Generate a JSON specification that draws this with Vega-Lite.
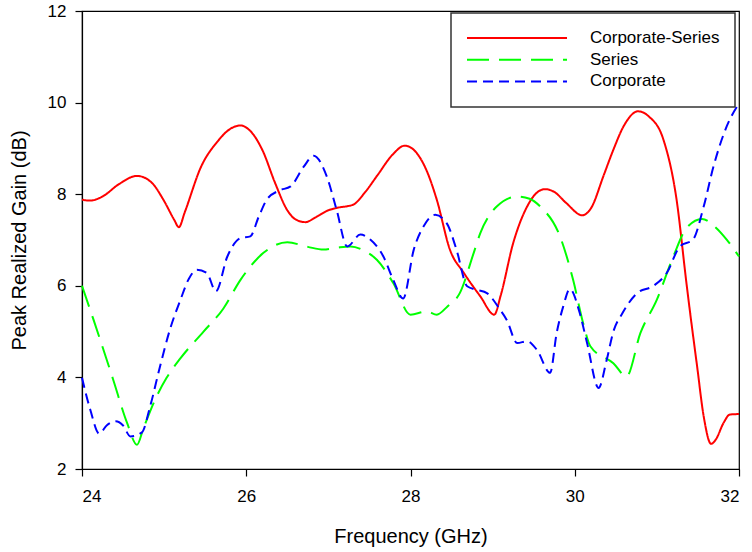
{
  "$schema": "https://vega.github.io/schema/vega-lite/v6.json",
  "width": 657,
  "height": 458,
  "autosize": {"type": "none"},
  "padding": {"left": 82, "top": 11, "right": 13, "bottom": 83},
  "config": {
    "font": "Liberation Sans",
    "view": {"stroke": "black", "strokeWidth": 1.2},
    "axis": {"domainColor": "black", "tickColor": "black", "labelColor": "black", "titleColor": "black", "grid": false, "labelFont": "Liberation Sans", "titleFont": "Liberation Sans", "labelFontSize": 17, "titleFontSize": 20, "titleFontWeight": "normal", "tickSize": 7, "domainWidth": 1.2, "tickWidth": 1.2},
    "legend": {"strokeWidth": 1.5}
  },
  "data": {"values": [
    {"s": "Corporate-Series", "f": 24.0, "g": 7.88},
    {"s": "Corporate-Series", "f": 24.1, "g": 7.86},
    {"s": "Corporate-Series", "f": 24.25, "g": 7.95},
    {"s": "Corporate-Series", "f": 24.45, "g": 8.22},
    {"s": "Corporate-Series", "f": 24.67, "g": 8.4},
    {"s": "Corporate-Series", "f": 24.85, "g": 8.25},
    {"s": "Corporate-Series", "f": 25.0, "g": 7.85},
    {"s": "Corporate-Series", "f": 25.12, "g": 7.45},
    {"s": "Corporate-Series", "f": 25.18, "g": 7.28},
    {"s": "Corporate-Series", "f": 25.25, "g": 7.6},
    {"s": "Corporate-Series", "f": 25.45, "g": 8.6},
    {"s": "Corporate-Series", "f": 25.65, "g": 9.15},
    {"s": "Corporate-Series", "f": 25.8, "g": 9.42},
    {"s": "Corporate-Series", "f": 25.93, "g": 9.5},
    {"s": "Corporate-Series", "f": 26.05, "g": 9.38},
    {"s": "Corporate-Series", "f": 26.2, "g": 8.95},
    {"s": "Corporate-Series", "f": 26.35, "g": 8.25},
    {"s": "Corporate-Series", "f": 26.5, "g": 7.65},
    {"s": "Corporate-Series", "f": 26.6, "g": 7.45},
    {"s": "Corporate-Series", "f": 26.72, "g": 7.39},
    {"s": "Corporate-Series", "f": 26.85, "g": 7.5},
    {"s": "Corporate-Series", "f": 27.0, "g": 7.65},
    {"s": "Corporate-Series", "f": 27.1, "g": 7.7},
    {"s": "Corporate-Series", "f": 27.3, "g": 7.77},
    {"s": "Corporate-Series", "f": 27.45, "g": 8.05},
    {"s": "Corporate-Series", "f": 27.6, "g": 8.42},
    {"s": "Corporate-Series", "f": 27.78, "g": 8.86},
    {"s": "Corporate-Series", "f": 27.93, "g": 9.06},
    {"s": "Corporate-Series", "f": 28.05, "g": 8.95},
    {"s": "Corporate-Series", "f": 28.2, "g": 8.5},
    {"s": "Corporate-Series", "f": 28.32, "g": 7.88},
    {"s": "Corporate-Series", "f": 28.48, "g": 6.79},
    {"s": "Corporate-Series", "f": 28.65, "g": 6.28},
    {"s": "Corporate-Series", "f": 28.85, "g": 5.77},
    {"s": "Corporate-Series", "f": 29.02, "g": 5.37},
    {"s": "Corporate-Series", "f": 29.1, "g": 5.8},
    {"s": "Corporate-Series", "f": 29.25, "g": 6.93},
    {"s": "Corporate-Series", "f": 29.42, "g": 7.73},
    {"s": "Corporate-Series", "f": 29.55, "g": 8.05},
    {"s": "Corporate-Series", "f": 29.64, "g": 8.11},
    {"s": "Corporate-Series", "f": 29.75, "g": 8.05},
    {"s": "Corporate-Series", "f": 29.9, "g": 7.8},
    {"s": "Corporate-Series", "f": 30.09, "g": 7.54},
    {"s": "Corporate-Series", "f": 30.2, "g": 7.7},
    {"s": "Corporate-Series", "f": 30.35, "g": 8.4},
    {"s": "Corporate-Series", "f": 30.47, "g": 8.97},
    {"s": "Corporate-Series", "f": 30.6, "g": 9.5},
    {"s": "Corporate-Series", "f": 30.77, "g": 9.81},
    {"s": "Corporate-Series", "f": 30.9, "g": 9.7},
    {"s": "Corporate-Series", "f": 31.08, "g": 9.19},
    {"s": "Corporate-Series", "f": 31.24, "g": 7.88},
    {"s": "Corporate-Series", "f": 31.36, "g": 6.06},
    {"s": "Corporate-Series", "f": 31.4, "g": 5.48},
    {"s": "Corporate-Series", "f": 31.49, "g": 4.24},
    {"s": "Corporate-Series", "f": 31.57, "g": 3.15},
    {"s": "Corporate-Series", "f": 31.66, "g": 2.55},
    {"s": "Corporate-Series", "f": 31.72, "g": 2.65},
    {"s": "Corporate-Series", "f": 31.81, "g": 3.0},
    {"s": "Corporate-Series", "f": 31.89, "g": 3.19},
    {"s": "Corporate-Series", "f": 32.0, "g": 3.2},
    {"s": "Series", "f": 24.0, "g": 6.0},
    {"s": "Series", "f": 24.14, "g": 5.26},
    {"s": "Series", "f": 24.38, "g": 3.95},
    {"s": "Series", "f": 24.55, "g": 3.0},
    {"s": "Series", "f": 24.67, "g": 2.53},
    {"s": "Series", "f": 24.75, "g": 2.9},
    {"s": "Series", "f": 24.91, "g": 3.59},
    {"s": "Series", "f": 25.03, "g": 3.99},
    {"s": "Series", "f": 25.2, "g": 4.42},
    {"s": "Series", "f": 25.48, "g": 5.0},
    {"s": "Series", "f": 25.72, "g": 5.5},
    {"s": "Series", "f": 25.93, "g": 6.13},
    {"s": "Series", "f": 26.21, "g": 6.72},
    {"s": "Series", "f": 26.5, "g": 6.95},
    {"s": "Series", "f": 26.75, "g": 6.85},
    {"s": "Series", "f": 26.94, "g": 6.79},
    {"s": "Series", "f": 27.1, "g": 6.83},
    {"s": "Series", "f": 27.27, "g": 6.86},
    {"s": "Series", "f": 27.45, "g": 6.75},
    {"s": "Series", "f": 27.59, "g": 6.57},
    {"s": "Series", "f": 27.79, "g": 6.06},
    {"s": "Series", "f": 28.0, "g": 5.37},
    {"s": "Series", "f": 28.2, "g": 5.44},
    {"s": "Series", "f": 28.32, "g": 5.37},
    {"s": "Series", "f": 28.45, "g": 5.55},
    {"s": "Series", "f": 28.6, "g": 5.84},
    {"s": "Series", "f": 28.77, "g": 6.72},
    {"s": "Series", "f": 28.85, "g": 7.15},
    {"s": "Series", "f": 29.05, "g": 7.73},
    {"s": "Series", "f": 29.3, "g": 7.95},
    {"s": "Series", "f": 29.45, "g": 7.9},
    {"s": "Series", "f": 29.58, "g": 7.73},
    {"s": "Series", "f": 29.82, "g": 7.08},
    {"s": "Series", "f": 29.98, "g": 6.13},
    {"s": "Series", "f": 30.1, "g": 5.2},
    {"s": "Series", "f": 30.19, "g": 4.68},
    {"s": "Series", "f": 30.47, "g": 4.31},
    {"s": "Series", "f": 30.63, "g": 4.02},
    {"s": "Series", "f": 30.8, "g": 4.97},
    {"s": "Series", "f": 31.0, "g": 5.7},
    {"s": "Series", "f": 31.2, "g": 6.64},
    {"s": "Series", "f": 31.36, "g": 7.26},
    {"s": "Series", "f": 31.55, "g": 7.46},
    {"s": "Series", "f": 31.7, "g": 7.3},
    {"s": "Series", "f": 31.85, "g": 7.01},
    {"s": "Series", "f": 32.0, "g": 6.64},
    {"s": "Corporate", "f": 24.0, "g": 3.99},
    {"s": "Corporate", "f": 24.1, "g": 3.3},
    {"s": "Corporate", "f": 24.21, "g": 2.77},
    {"s": "Corporate", "f": 24.3, "g": 2.95},
    {"s": "Corporate", "f": 24.41, "g": 3.04},
    {"s": "Corporate", "f": 24.5, "g": 2.95},
    {"s": "Corporate", "f": 24.59, "g": 2.71},
    {"s": "Corporate", "f": 24.73, "g": 2.8},
    {"s": "Corporate", "f": 24.83, "g": 3.37},
    {"s": "Corporate", "f": 24.95, "g": 4.24},
    {"s": "Corporate", "f": 25.07, "g": 5.04},
    {"s": "Corporate", "f": 25.2, "g": 5.7},
    {"s": "Corporate", "f": 25.3, "g": 6.15},
    {"s": "Corporate", "f": 25.4, "g": 6.35},
    {"s": "Corporate", "f": 25.52, "g": 6.28},
    {"s": "Corporate", "f": 25.63, "g": 5.88},
    {"s": "Corporate", "f": 25.77, "g": 6.64},
    {"s": "Corporate", "f": 25.93, "g": 7.04},
    {"s": "Corporate", "f": 26.05, "g": 7.08},
    {"s": "Corporate", "f": 26.15, "g": 7.5},
    {"s": "Corporate", "f": 26.25, "g": 7.88},
    {"s": "Corporate", "f": 26.4, "g": 8.08},
    {"s": "Corporate", "f": 26.54, "g": 8.17},
    {"s": "Corporate", "f": 26.7, "g": 8.6},
    {"s": "Corporate", "f": 26.82, "g": 8.84},
    {"s": "Corporate", "f": 26.98, "g": 8.39},
    {"s": "Corporate", "f": 27.1, "g": 7.66},
    {"s": "Corporate", "f": 27.23, "g": 6.86},
    {"s": "Corporate", "f": 27.39, "g": 7.12},
    {"s": "Corporate", "f": 27.51, "g": 7.01},
    {"s": "Corporate", "f": 27.67, "g": 6.64},
    {"s": "Corporate", "f": 27.79, "g": 6.13},
    {"s": "Corporate", "f": 27.91, "g": 5.72},
    {"s": "Corporate", "f": 28.04, "g": 6.79},
    {"s": "Corporate", "f": 28.16, "g": 7.3},
    {"s": "Corporate", "f": 28.3, "g": 7.55},
    {"s": "Corporate", "f": 28.44, "g": 7.37},
    {"s": "Corporate", "f": 28.56, "g": 6.79},
    {"s": "Corporate", "f": 28.69, "g": 5.99},
    {"s": "Corporate", "f": 28.81, "g": 5.91},
    {"s": "Corporate", "f": 28.93, "g": 5.84},
    {"s": "Corporate", "f": 29.09, "g": 5.48},
    {"s": "Corporate", "f": 29.17, "g": 5.26},
    {"s": "Corporate", "f": 29.3, "g": 4.75},
    {"s": "Corporate", "f": 29.42, "g": 4.79},
    {"s": "Corporate", "f": 29.54, "g": 4.6},
    {"s": "Corporate", "f": 29.7, "g": 4.1},
    {"s": "Corporate", "f": 29.78, "g": 4.97},
    {"s": "Corporate", "f": 29.86, "g": 5.55},
    {"s": "Corporate", "f": 29.94, "g": 5.93},
    {"s": "Corporate", "f": 30.06, "g": 5.41},
    {"s": "Corporate", "f": 30.15, "g": 4.75},
    {"s": "Corporate", "f": 30.29, "g": 3.77},
    {"s": "Corporate", "f": 30.39, "g": 4.39},
    {"s": "Corporate", "f": 30.47, "g": 5.0},
    {"s": "Corporate", "f": 30.58, "g": 5.4},
    {"s": "Corporate", "f": 30.76, "g": 5.84},
    {"s": "Corporate", "f": 30.96, "g": 6.0},
    {"s": "Corporate", "f": 31.12, "g": 6.28},
    {"s": "Corporate", "f": 31.28, "g": 6.86},
    {"s": "Corporate", "f": 31.44, "g": 7.01},
    {"s": "Corporate", "f": 31.57, "g": 7.73},
    {"s": "Corporate", "f": 31.69, "g": 8.61},
    {"s": "Corporate", "f": 31.85, "g": 9.48},
    {"s": "Corporate", "f": 32.0, "g": 9.98}
  ]},
  "mark": {"type": "line", "interpolate": "monotone", "strokeWidth": 2},
  "encoding": {
    "x": {"field": "f", "type": "quantitative", "scale": {"domain": [24, 32], "nice": false, "zero": false}, "axis": {"title": "Frequency (GHz)", "values": [24, 26, 28, 30, 32], "labelPadding": 12, "titlePadding": 22}},
    "y": {"field": "g", "type": "quantitative", "scale": {"domain": [2, 12], "nice": false, "zero": false}, "axis": {"title": "Peak Realized Gain (dB)", "values": [2, 4, 6, 8, 10, 12], "labelPadding": 9, "titlePadding": 18}},
    "color": {"field": "s", "type": "nominal", "scale": {"domain": ["Corporate-Series", "Series", "Corporate"], "range": ["#ff0000", "#00ff00", "#0000ff"]},
      "legend": {"title": null, "orient": "none", "legendX": 369, "legendY": 2, "symbolType": "stroke", "symbolSize": 10000, "symbolStrokeWidth": 2, "clipHeight": 20, "rowPadding": 1.7, "padding": 15, "labelOffset": 22, "labelFontSize": 17, "labelFont": "Liberation Sans", "labelColor": "black", "strokeColor": "#333333", "fillColor": "white", "labelLimit": 300}},
    "strokeDash": {"field": "s", "type": "nominal", "scale": {"domain": ["Corporate-Series", "Series", "Corporate"], "range": [[1, 0], [22, 10], [10, 6]]},
      "legend": {"title": null, "orient": "none", "legendX": 369, "legendY": 2, "symbolType": "stroke", "symbolSize": 10000, "symbolStrokeWidth": 2, "clipHeight": 20, "rowPadding": 1.7, "padding": 15, "labelOffset": 22, "labelFontSize": 17, "labelFont": "Liberation Sans", "labelColor": "black", "strokeColor": "#333333", "fillColor": "white", "labelLimit": 300}}
  }
}
